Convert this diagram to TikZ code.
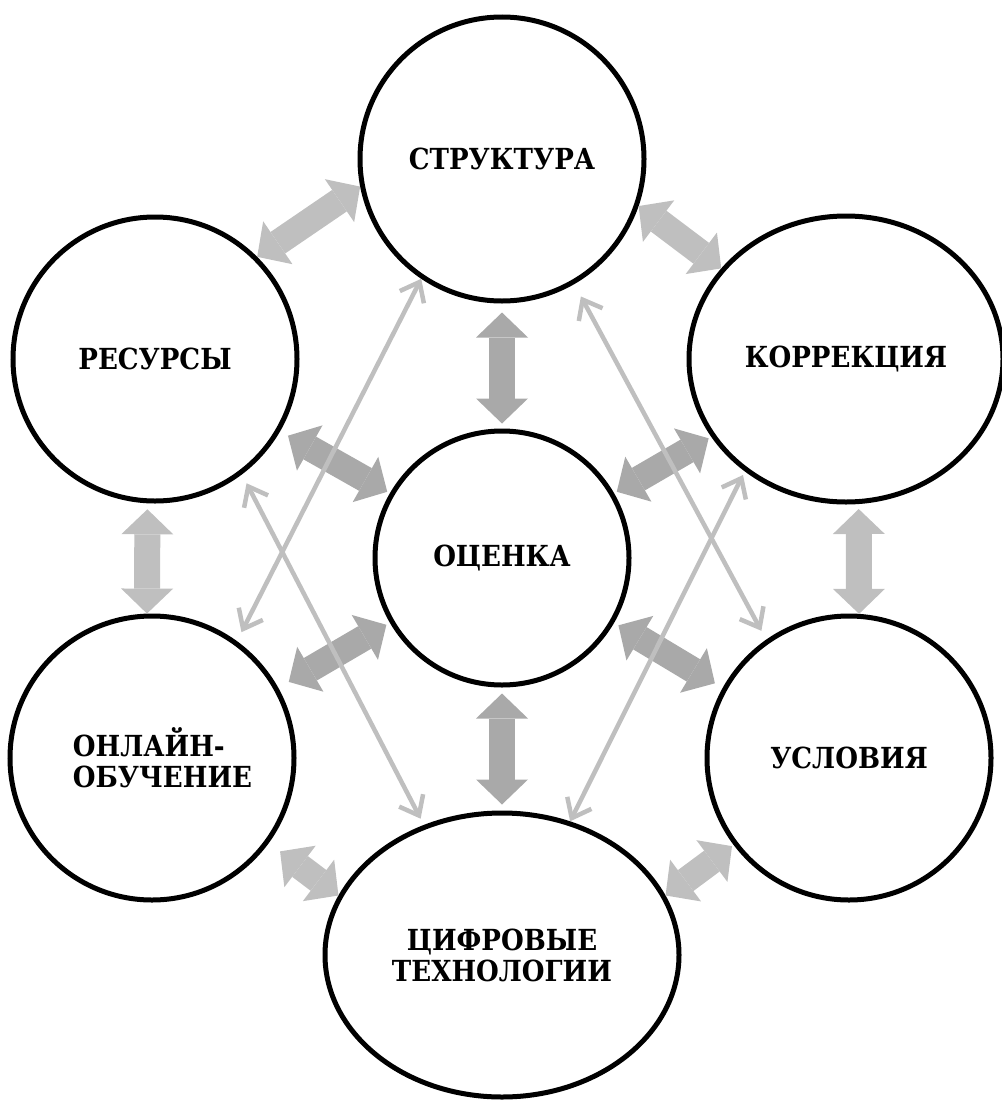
\documentclass[tikz,border=0pt]{standalone}
\usepackage{fontspec}
\newfontfamily\labfont{DejaVu Serif}[FakeStretch=0.9]
\usetikzlibrary{arrows.meta,shapes.geometric,calc}
\definecolor{lightg}{HTML}{BFBFBF}
\definecolor{darkg}{HTML}{A9A9A9}
\begin{document}
\begin{tikzpicture}[x=1pt,y=-1pt,
  lab/.style={font=\labfont\bfseries\fontsize{29}{31}\selectfont, align=center},
  ring/.style={draw, line width=5pt, circle, minimum size=284pt, inner sep=0pt, lab},
  oval/.style={draw, line width=5pt, ellipse, inner sep=0pt, lab},
  blk/.style={line width=26pt, {Triangle[length=25pt,width=52pt,line width=0pt]}-{Triangle[length=25pt,width=52pt,line width=0pt]}},
  blkL/.style={blk, draw=lightg},
  blkD/.style={blk, draw=darkg},
  thinarr/.style={draw=lightg, line width=4.5pt, line cap=round, line join=round,
    {Straight Barb[length=17pt,width=27pt]}-{Straight Barb[length=17pt,width=27pt]}},
]
\useasboundingbox (0,0) rectangle (1001,1100);

% nodes
\node[ring] (str) at (502,159) {СТРУКТУРА};
\node[ring] (res) at (155,359) {РЕСУРСЫ};
\node[oval, minimum width=314pt, minimum height=286pt] (kor) at (846,359) {КОРРЕКЦИЯ};
\node[ring, minimum size=254pt] (ots) at (502,558) {ОЦЕНКА};
\node[ring, align=left] (onl) at (152,758) {\hspace*{21pt}ОНЛАЙН-\\\hspace*{21pt}ОБУЧЕНИЕ};
\node[ring] (usl) at (849,758) {УСЛОВИЯ};
\node[oval, minimum width=354pt, minimum height=284pt] (cif) at (502,955) {ЦИФРОВЫЕ\\ТЕХНОЛОГИИ};

% block arrows
\draw[blkL] (res.45) -- (str.191);
\draw[blkL] (str.341) -- (kor.144);
\draw[blkD, shorten <=9pt, shorten >=5pt] (str.south) -- (ots.north);
\draw[blkD, shorten <=6pt, shorten >=6pt] (ots.south) -- (cif.north);
\draw[blkD, shorten <=9pt, shorten >=3pt] (res.330) -- (ots.150);
\draw[blkD, shorten <=3pt, shorten >=3pt] (kor.210) -- (ots.30);
\draw[blkD, shorten <=12pt, shorten >=4pt] (onl.29) -- (ots.210);
\draw[blkD, shorten <=9pt, shorten >=5pt] (usl.151) -- (ots.330);
\draw[blkL, shorten <=6pt] (res.-93) -- (onl.92);
\draw[blkL, shorten <=5pt] (kor.-85) -- (usl.86);
\draw[blkL, shorten <=14pt] (onl.-36) -- (cif.160);
\draw[blkL, shorten <=2pt] (usl.217) -- (cif.20);

% thin crossing arrows
\draw[thinarr, shorten <=10pt] (onl.54) -- (str.236);
\draw[thinarr, shorten <=10pt, shorten >=7pt] (res.-53) -- (cif.121);
\draw[thinarr, shorten <=14pt, shorten >=10pt] (str.-60) -- (usl.125);
\draw[thinarr, shorten <=4pt] (kor.228) -- (cif.63);
\end{tikzpicture}
\end{document}
